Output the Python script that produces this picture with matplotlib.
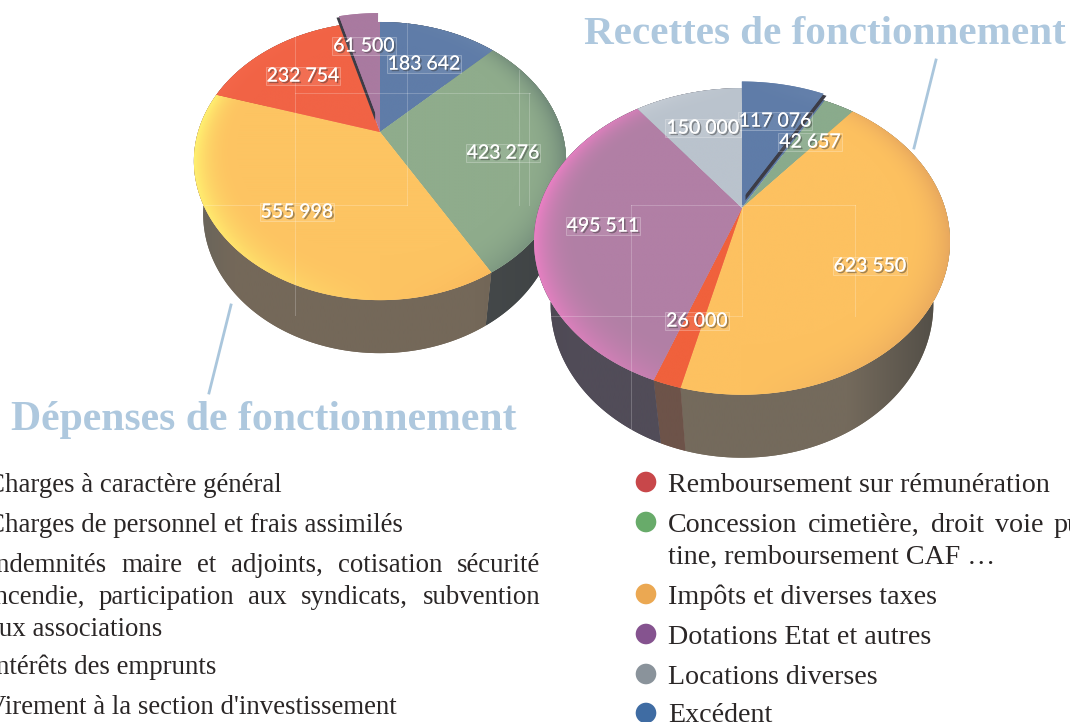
import numpy as np
import matplotlib
matplotlib.use('Agg')
import matplotlib.pyplot as plt
import matplotlib.patheffects as pe
from matplotlib.colors import to_rgb
from matplotlib.patches import Polygon, Circle

# data
dep_values = [183642, 423276, 555998, 232754, 61500]
rec_values = [117076, 42657, 623550, 26000, 495511, 150000]
dep_explode = [0, 0, 0, 0, 0.10]
rec_explode = [0.07, 0, 0, 0, 0, 0]

# (left rim, main, right rim) for the top face
dep_top = [('#5F7CA8', '#5F7CA8', '#6A86AC'), ('#8CAB8C', '#8FAC8C', '#6F8878'),
           ('#FFF070', '#FDC462', '#F8B058'), ('#F4674A', '#F16345', '#F16345'),
           ('#A97AA0', '#A97AA0', '#A97AA0')]
rec_top = [('#5F7CA8', '#5F7CA8', '#6B86AE'), ('#8AAB8C', '#8AAB8C', '#8AAB8C'),
           ('#FDC160', '#FDC160', '#E8A85E'), ('#F0613C', '#F0613C', '#F0613C'),
           ('#EA80C4', '#B17FA5', '#A87FA0'), ('#CDD3DA', '#BAC3CD', '#B0BBC6')]
# same for the outer wall
dep_side = [('#45494A', '#45494A', '#45494A'), ('#44484A', '#45494A', '#3E4244'),
            ('#66645C', '#746859', '#6A5E50'), ('#66645C', '#66645C', '#66645C'),
            ('#66645C', '#66645C', '#66645C')]
rec_side = [('#45494A', '#45494A', '#45494A'), ('#45494A', '#45494A', '#45494A'),
            ('#776D60', '#746A5C', '#4C4943'), ('#6D5349', '#6D5349', '#6D5349'),
            ('#4C4852', '#514C58', '#514C58'), ('#4C4852', '#4C4852', '#4C4852')]

dep_pos = [(424, 64), (503, 153), (297, 212), (303, 76), (364, 46)]
rec_pos = [(775, 121), (810, 142), (870, 266), (697, 321), (603, 226), (703, 128)]

title_rec = 'Recettes de fonctionnement'
title_dep = 'Dépenses de fonctionnement'

dep_legend = ['Charges à caractère général', 'Charges de personnel et frais assimilés',
              'Indemnités maire et adjoints, cotisation sécurité',
              'incendie, participation aux syndicats, subvention',
              'aux associations', 'Intérêts des emprunts',
              "Virement à la section d'investissement"]
dep_legend_y = [482, 522, 562, 594, 626, 664, 705]
dep_justified = [2, 3]

rec_legend = ['Remboursement sur rémunération', 'Concession cimetière, droit voie pu',
              'tine, remboursement CAF …', 'Impôts et diverses taxes',
              'Dotations Etat et autres', 'Locations diverses', 'Excédent']
rec_legend_y = [482, 522, 554, 594, 634, 674, 713]
rec_justified = [1]
rec_bullets = ['#C8474A', '#68AB6A', None, '#EBA852', '#85538F', '#8A939B', '#3F6CA3']

SERIF = 'Liberation Serif'
BLUE_TITLE = '#AEC8DE'

fig = plt.figure(figsize=(10.7, 7.22), dpi=100, facecolor='white')
ax = fig.add_axes([0, 0, 1, 1])


def project(theta, r, ox, oy, p):
    # unit circle -> perspective view of the disc
    u = ox + r * np.cos(theta)
    v = oy + r * np.sin(theta)
    d = 1 + p['k'] * v
    return p['cx'] + p['S'] * u / d, p['cy'] - p['T'] * v / d


def wall_shade(poly, stops, p, z):
    patch = Polygon(poly, closed=True, fc=stops[1], ec='none', zorder=z)
    ax.add_patch(patch)
    t = np.linspace(-1, 1, 256)
    at = [-1, -0.78, 0.5, 1]
    rgb = [to_rgb(stops[0]), to_rgb(stops[1]), to_rgb(stops[1]), to_rgb(stops[2])]
    grad = np.stack([np.interp(t, at, [c[i] for c in rgb]) for i in range(3)], axis=1)
    R = p['S'] * 1.04
    im = ax.imshow(grad[None, :, :], extent=[p['cx'] - R, p['cx'] + R, 722, 0],
                   aspect='auto', zorder=z, interpolation='bilinear')
    im.set_clip_path(patch)


def top_shade(poly, stops, p, z):
    # rim colour follows the edge of the disc
    patch = Polygon(poly, closed=True, fc=stops[1], ec='none', zorder=z)
    ax.add_patch(patch)
    x0, y0 = poly.min(axis=0) - 1
    x1, y1 = poly.max(axis=0) + 1
    X, Y = np.meshgrid(np.linspace(x0, x1, 300), np.linspace(y0, y1, 300))
    w = p['cy'] - Y
    v = w / (p['T'] - p['k'] * w)
    u = (X - p['cx']) * (1 + p['k'] * v) / p['S']
    r = np.hypot(u, v) + 1e-6
    rim = np.clip((r - 0.78) / 0.22, 0, 1) ** 2.5 * np.abs(u) / r
    main = np.array(to_rgb(stops[1]))
    edge = np.where((u < 0)[..., None], np.array(to_rgb(stops[0])), np.array(to_rgb(stops[2])))
    img = main + (edge - main) * rim[..., None]
    im = ax.imshow(np.clip(img, 0, 1), extent=[x0, x1, y1, y0], aspect='auto', zorder=z,
                   interpolation='bilinear')
    im.set_clip_path(patch)


def draw_pie(values, explode, top, side, p, z):
    wedges, _ = ax.pie(values, explode=explode, startangle=90, counterclock=False,
                       colors=[s[1] for s in top], radius=1)
    for w, s in zip(wedges, side):
        th = np.radians(np.linspace(w.theta1, w.theta2, 120))
        # wall, taken from the unexploded slice
        x0, y0 = project(th, 1, 0, 0, p)
        x1 = p['cx'] + (x0 - p['cx']) * p['taper']
        y1 = y0 + p['depth']
        wall_shade(np.r_[np.c_[x0, y0], np.c_[x1, y1][::-1]], s, p, z)
    for w, t, e in zip(wedges, top, explode):
        th = np.radians(np.linspace(w.theta1, w.theta2, 120))
        ox, oy = w.center
        x, y = project(th, 1, ox, oy, p)
        ax_, ay_ = project(np.array([0.0]), 0, ox, oy, p)
        poly = np.r_[np.c_[x, y], [[ax_[0], ay_[0]]]]
        if e:
            # the place the slice came out of
            bx, by = project(th, 1, 0, 0, p)
            base = np.r_[np.c_[bx, by], [[p['cx'], p['cy']]]]
            ax.add_patch(Polygon(base, closed=True, fc=t[1], ec='none', zorder=z + 1))
            poly = poly + p['nudge']
            ax.add_patch(Polygon(poly + p['edge'], closed=True, fc='#3C3C46', ec='none', zorder=z + 2))
        top_shade(poly, t, p, z + 1 + (2 if e else 0))
        w.remove()


dep_p = dict(cx=380, cy=132, S=182, T=133, k=0.209, depth=53, taper=0.95, edge=(-2.5, 1.5), nudge=(0, 0))
rec_p = dict(cx=742, cy=208, S=203, T=146, k=0.218, depth=63, taper=0.92, edge=(3, 2), nudge=(-3, 0))

draw_pie(dep_values, dep_explode, dep_top, dep_side, dep_p, 2)
draw_pie(rec_values, rec_explode, rec_top, rec_side, rec_p, 7)

# faint leftovers of the layout boxes
faint = [((295, 25), (295, 315)), ((295, 93), (530, 93)), ((407, 22), (407, 205)),
         ((205, 205), (407, 205)), ((519, 70), (519, 205)), ((529, 93), (529, 205))]
for a, b in faint:
    ax.plot([a[0], b[0]], [a[1], b[1]], color='white', lw=0.7, alpha=0.22, zorder=5)
faint = [((631, 205), (855, 205)), ((631, 205), (631, 455)), ((550, 316), (742, 316)),
         ((742, 205), (742, 316)), ((855, 205), (855, 316))]
for a, b in faint:
    ax.plot([a[0], b[0]], [a[1], b[1]], color='white', lw=0.7, alpha=0.22, zorder=12)


def value_labels(values, pos, z):
    for v, (x, y) in zip(values, pos):
        ax.text(x, y, f'{v:,}'.replace(',', ' '), ha='center', va='center', color='white',
                family='Lato', fontsize=14, zorder=z,
                path_effects=[pe.withSimplePatchShadow(offset=(1.2, -1.2), shadow_rgbFace='#333333', alpha=0.45),
                              pe.Normal()],
                bbox=dict(boxstyle='square,pad=0.05', fc=(1, 1, 1, 0.08), ec=(1, 1, 1, 0.3), lw=0.6))


value_labels(dep_values, dep_pos, 20)
value_labels(rec_values, rec_pos, 21)

# titles and leader lines
ax.text(584, 35, title_rec, family=SERIF, weight='bold', fontsize=29.6, color=BLUE_TITLE,
        va='center', ha='left', zorder=30)
ax.text(11, 420, title_dep, family=SERIF, weight='bold', fontsize=30.1, color=BLUE_TITLE,
        va='center', ha='left', zorder=30)
ax.plot([936, 914], [60, 148], color='#AAC6DC', lw=2, zorder=30)
ax.plot([231, 209], [305, 393], color='#AAC6DC', lw=2, zorder=30)

# legends
renderer = fig.canvas.get_renderer()


def justified(line, x0, x1, y, **kw):
    words = line.split(' ')
    items = [ax.text(x0, y, w, ha='left', **kw) for w in words]
    widths = [t.get_window_extent(renderer).width for t in items]
    gap = (x1 - x0 - sum(widths)) / (len(words) - 1)
    x = x0
    for t, w in zip(items, widths):
        t.set_x(x)
        x += w + gap


LEG_L = dict(family=SERIF, fontsize=19.4, color='#2A2626', va='center_baseline', zorder=30)
LEG_R = dict(family=SERIF, fontsize=20.2, color='#2A2626', va='center_baseline', zorder=30)

for i, (line, y) in enumerate(zip(dep_legend, dep_legend_y)):
    if i in dep_justified:
        justified(line, -13, 540, y, **LEG_L)
    else:
        ax.text(-13, y, line, ha='left', **LEG_L)

for i, (line, y) in enumerate(zip(rec_legend, rec_legend_y)):
    if i in rec_justified:
        justified(line, 668, 1082, y, **LEG_R)
    else:
        ax.text(668, y, line, ha='left', **LEG_R)
    if rec_bullets[i]:
        ax.add_patch(Circle((646, y), 10.3, fc=rec_bullets[i], ec='none', zorder=30))

ax.set_aspect('auto')
ax.set_xlim(0, 1070)
ax.set_ylim(722, 0)
ax.axis('off')

fig.savefig('out.png', dpi=100, facecolor='white')
